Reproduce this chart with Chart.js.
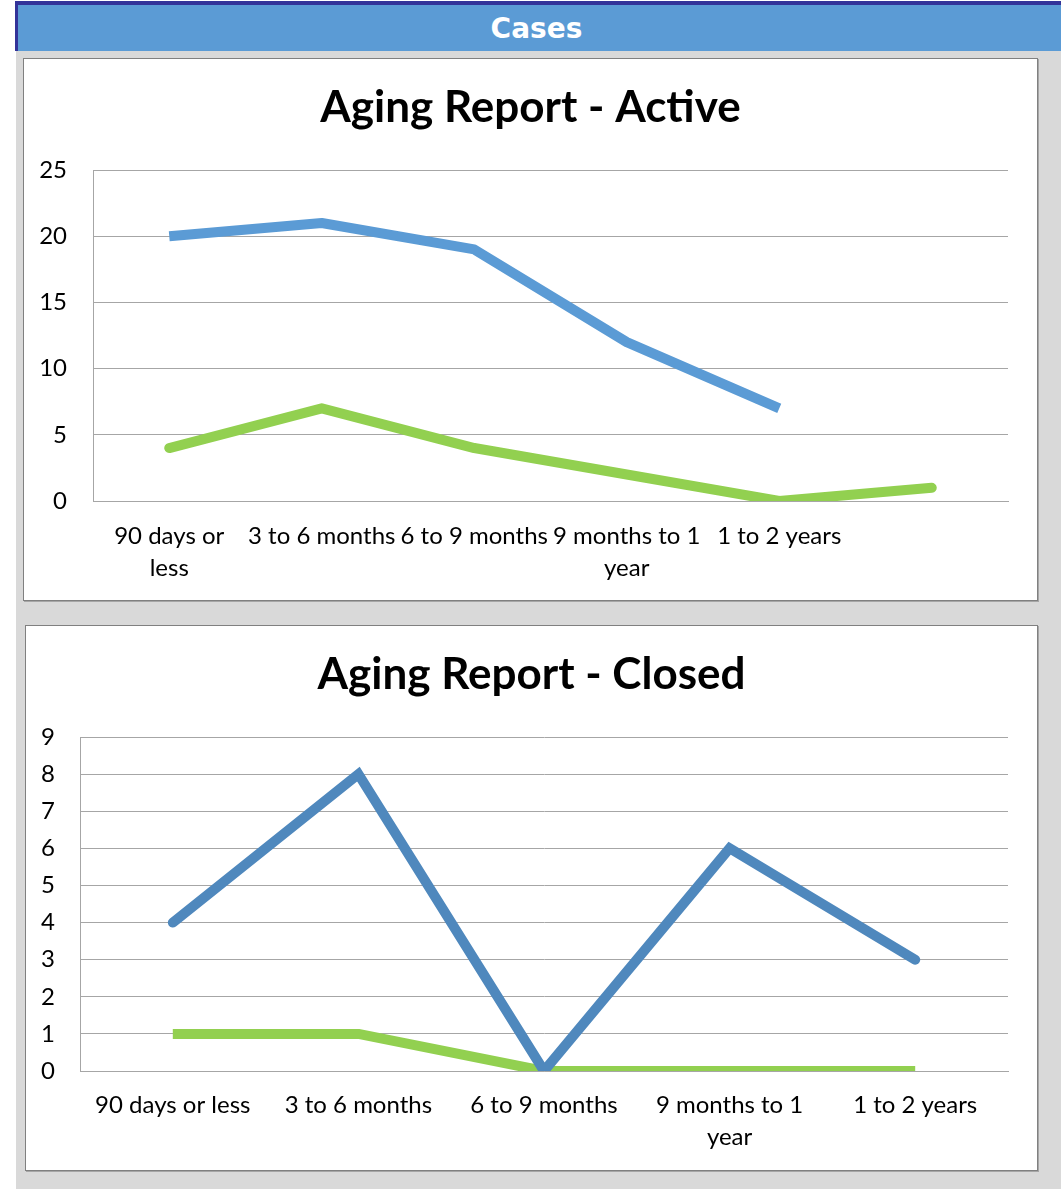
<!DOCTYPE html>
<html>
<head>
<meta charset="utf-8">
<script src="https://cdn.jsdelivr.net/npm/chart.js@4.4.1/dist/chart.umd.min.js"></script>
<style>
  html, body { margin: 0; padding: 0; background: #ffffff; }
  body { width: 1061px; height: 1189px; position: relative; overflow: hidden; }
  #navy { position: absolute; left: 15px; top: 1px; width: 1046px; height: 50px; background: #333399; }
  #bar { position: absolute; left: 18px; top: 5px; width: 1043px; height: 46px; background: #5b9bd5;
         color: #fff; font: bold 28px "DejaVu Sans", Verdana, sans-serif; text-align: center; line-height: 46px; }
  #bar span { position: relative; left: -3px; top: 1px; }
  #gray { position: absolute; left: 16px; top: 51px; width: 1045px; height: 1138px; background: #d9d9d9; }
  .panel { position: absolute; background: #fff; border: 1px solid #808080; box-shadow: 1px 1px 0 #a6a6a6; }
  .panel canvas { position: absolute; left: 0; top: 0; }
</style>
</head>
<body>
<div id="navy"></div>
<div id="bar"><span>Cases</span></div>
<div id="gray"></div>
<div class="panel" id="p1" style="left:23px; top:58px; width:1013px; height:541px;">
  <canvas id="c1" width="1013" height="541"></canvas>
</div>
<div class="panel" id="p2" style="left:25px; top:625px; width:1011px; height:544px;">
  <canvas id="c2" width="1011" height="544"></canvas>
</div>
<script>
// ---- data ----
const activeTitle = "Aging Report - Active";
const activeCategories = [["90 days or", "less"], "3 to 6 months", "6 to 9 months", ["9 months to 1", "year"], "1 to 2 years", ""];
const activeSeriesA = [20, 21, 19, 12, 7, null];
const activeSeriesB = [4, 7, 4, 2, 0, 1];
const activeTicks = { min: 0, max: 25, step: 5 };

const closedTitle = "Aging Report - Closed";
const closedCategories = ["90 days or less", "3 to 6 months", "6 to 9 months", ["9 months to 1", "year"], "1 to 2 years"];
const closedSeriesA = [4, 8, 0, 6, 3];
const closedSeriesB = [1, 1, 0, 0, 0];
const closedTicks = { min: 0, max: 9, step: 1 };

const FONT = "Lato, 'Open Sans', sans-serif";
const GRID = "#a6a6a6";

function makeChart(id, title, cats, a, b, ticks, cfg) {
  return new Chart(document.getElementById(id), {
    type: 'line',
    data: {
      labels: cats,
      datasets: [
        { label: 'Series 1', data: a, borderColor: cfg.blue, borderWidth: 10, pointRadius: 0,
          borderCapStyle: cfg.blueCap, borderJoinStyle: cfg.blueJoin, tension: 0, spanGaps: false },
        { label: 'Series 2', data: b, borderColor: '#92d050', borderWidth: 10, pointRadius: 0,
          borderCapStyle: cfg.greenCap, borderJoinStyle: 'round', tension: 0 }
      ]
    },
    options: {
      responsive: false,
      animation: false,
      devicePixelRatio: 1,
      layout: { padding: 0 },
      plugins: {
        legend: { display: false },
        tooltip: { enabled: false },
        title: { display: true, text: title, color: '#000',
                 font: { family: FONT, size: 44, weight: 'bold', lineHeight: 1.2 },
                 padding: { top: cfg.titleTop, bottom: cfg.titleBottom } }
      },
      scales: {
        x: {
          offset: true,
          grid: { display: false, drawTicks: false },
          border: { display: true, color: GRID, width: 1 },
          ticks: { color: '#000', font: { family: FONT, size: 24, lineHeight: 1.33 },
                   padding: cfg.xPad, autoSkip: false, maxRotation: 0, minRotation: 0 },
          afterFit: (s) => { s.height = cfg.xHeight; }
        },
        y: {
          min: ticks.min, max: ticks.max,
          grid: { color: GRID, lineWidth: 1, drawTicks: false },
          border: { display: true, color: GRID, width: 1 },
          ticks: { stepSize: ticks.step, color: '#000', font: { family: FONT, size: 24 }, padding: cfg.yPad },
          afterFit: (s) => { s.width = cfg.yWidth; }
        },
        gap: {
          position: 'right', display: true,
          grid: { display: false, drawTicks: false },
          border: { display: false },
          ticks: { display: false },
          afterFit: (s) => { s.width = cfg.rightGap; }
        }
      }
    }
  });
}

makeChart('c1', activeTitle, activeCategories, activeSeriesA, activeSeriesB, activeTicks, {
  blue: '#5b9bd5', blueCap: 'butt', blueJoin: 'round', greenCap: 'round',
  rightGap: 29, yWidth: 69, yPad: 26, xHeight: 99, xPad: 19, titleTop: 22, titleBottom: 36.2
});
makeChart('c2', closedTitle, closedCategories, closedSeriesA, closedSeriesB, closedTicks, {
  blue: '#4f88bd', blueCap: 'round', blueJoin: 'miter', greenCap: 'butt',
  rightGap: 29, yWidth: 54, yPad: 25, xHeight: 99, xPad: 18, titleTop: 22, titleBottom: 36.2
});
</script>
</body>
</html>
